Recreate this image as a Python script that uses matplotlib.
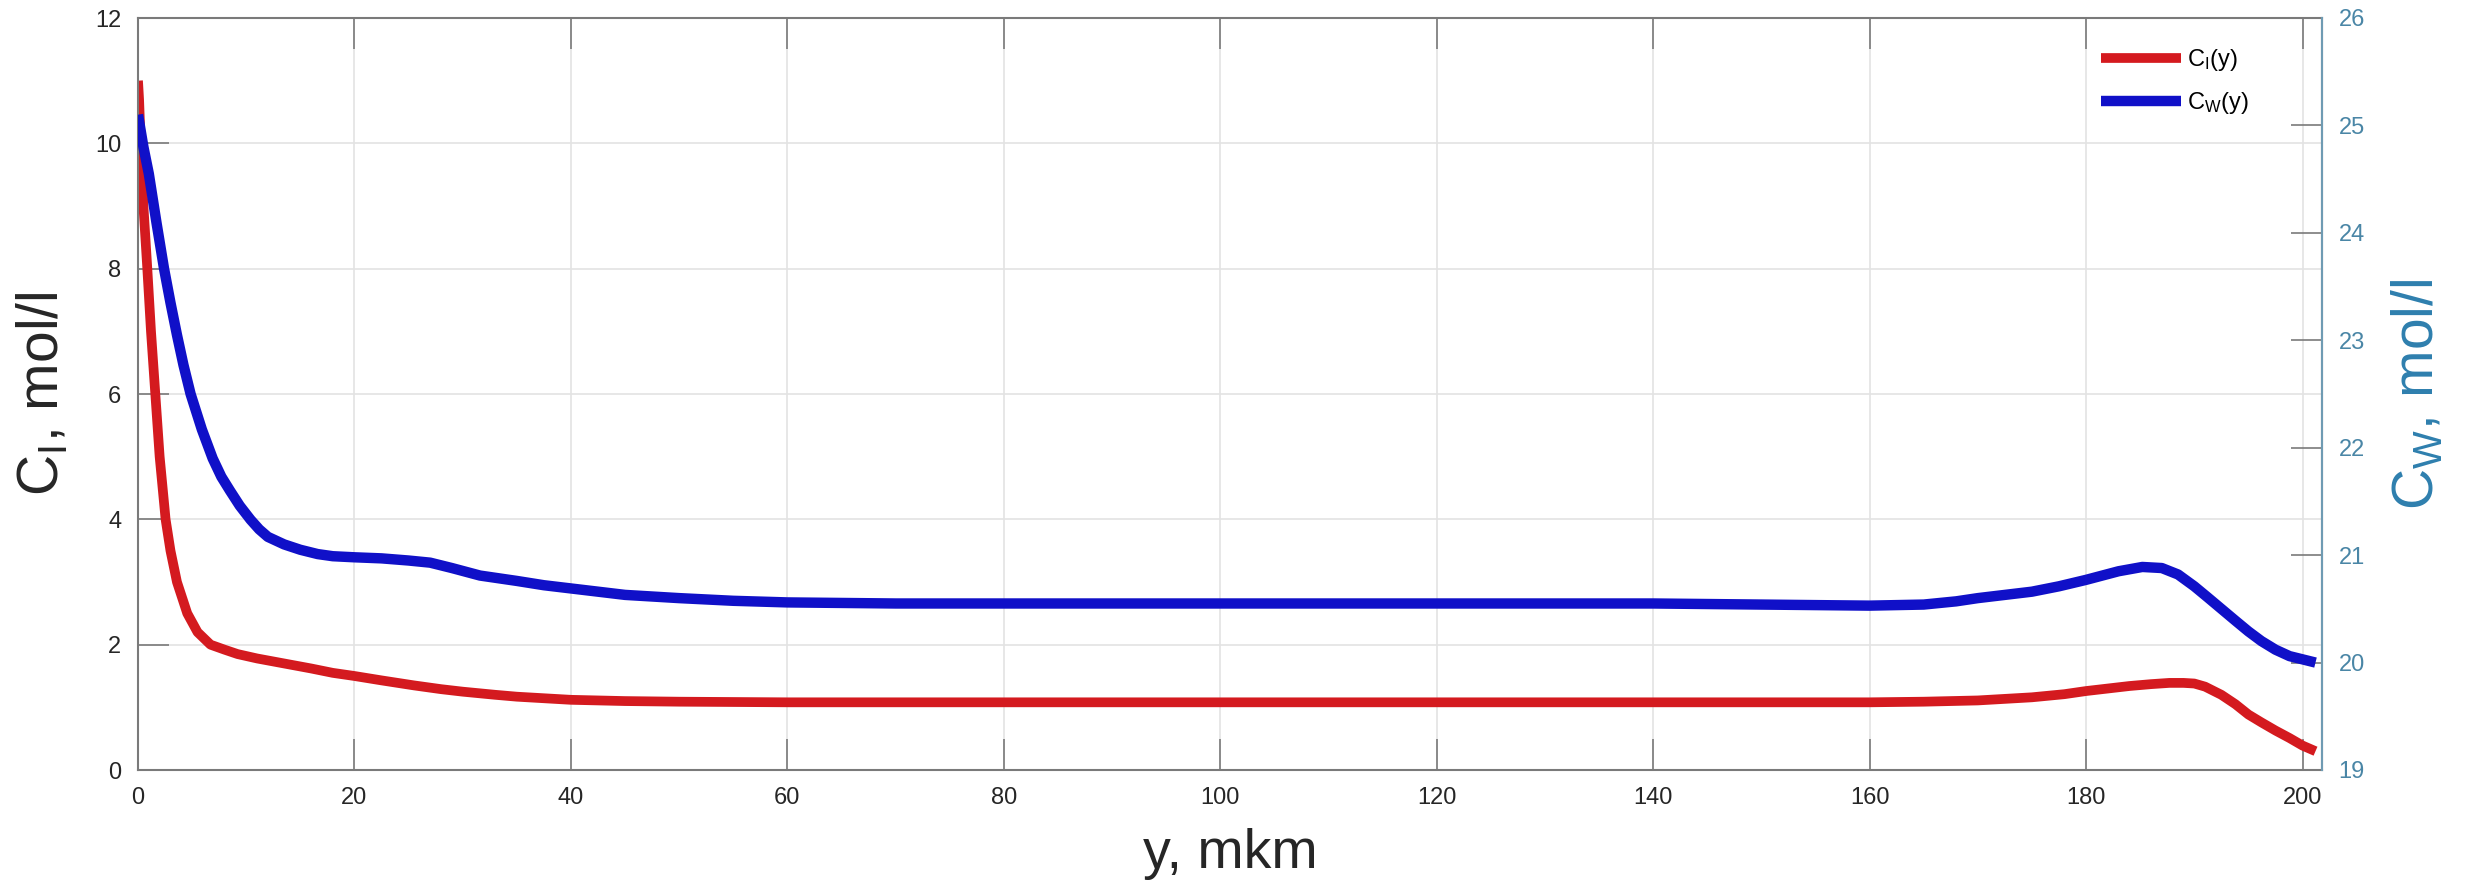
import matplotlib
matplotlib.use('Agg')
import matplotlib.pyplot as plt

plt.rcParams.update({'font.family': ['Liberation Sans', 'DejaVu Sans'],
                     'mathtext.fontset': 'custom',
                     'mathtext.rm': 'Liberation Sans',
                     'mathtext.it': 'Liberation Sans'})

# C_I(y), mol/l (left axis)
y_ci = [0, 0.1, 0.25, 0.5, 0.86, 1.2, 1.6, 2.0, 2.55, 3.0, 3.6, 4.55, 5.5, 6.7, 8, 9.2,
        11, 13.5, 16, 18, 20, 22.5, 25.5, 28, 30, 33, 35, 40, 45, 50, 55, 60, 80, 100,
        120, 140, 160, 165, 170, 175, 178, 180, 182, 184, 186, 187.7, 189, 190, 191,
        192.5, 193.8, 195, 196.2, 197.5, 198.8, 200, 201.2]
ci = [11.0, 10.7, 10.0, 9.0, 8.0, 7.0, 6.0, 5.0, 4.0, 3.5, 3.0, 2.5, 2.2, 2.0, 1.92, 1.85,
      1.78, 1.7, 1.62, 1.55, 1.5, 1.43, 1.35, 1.29, 1.25, 1.2, 1.17, 1.12, 1.1, 1.09, 1.085,
      1.08, 1.08, 1.08, 1.08, 1.08, 1.08, 1.09, 1.11, 1.16, 1.21, 1.26, 1.3, 1.34, 1.37,
      1.39, 1.39, 1.38, 1.33, 1.2, 1.05, 0.885, 0.76, 0.63, 0.51, 0.39, 0.30]

# C_W(y), mol/l (right axis)
y_cw = [0, 0.5, 1, 1.7, 2.4, 3.0, 3.6, 4.2, 4.86, 5.9, 6.9, 7.7, 8.5, 9.4, 10.4, 11.2, 12,
        13.5, 15, 16.6, 18, 20, 22.5, 25, 27, 29, 31.6, 35, 37.5, 40, 45, 50, 55, 60, 65,
        70, 100, 140, 150, 155, 160, 165, 168, 170, 172.5, 175, 177.5, 180, 183, 185.2,
        187, 188.5, 190, 191.2, 192.5, 193.8, 195, 196.2, 197.5, 198.8, 200, 201.2]
cw = [25.1, 24.8, 24.55, 24.1, 23.67, 23.35, 23.05, 22.77, 22.5, 22.17, 21.9, 21.73, 21.6,
      21.46, 21.33, 21.24, 21.17, 21.1, 21.05, 21.01, 20.99, 20.98, 20.97, 20.95, 20.93,
      20.88, 20.81, 20.76, 20.72, 20.69, 20.63, 20.6, 20.575, 20.56, 20.555, 20.55, 20.55,
      20.55, 20.54, 20.535, 20.53, 20.54, 20.57, 20.6, 20.63, 20.66, 20.71, 20.77, 20.85,
      20.89, 20.88, 20.82, 20.71, 20.61, 20.5, 20.39, 20.29, 20.2, 20.12, 20.06, 20.03, 20.0]

xticks = list(range(0, 201, 20))
left_ticks = list(range(0, 13, 2))
right_ticks = list(range(19, 27))

red = '#d41a1f'
blue = '#1010c8'
right_col = '#2e7fae'
dark = '#262626'
spine_col = '#7a7a7a'

fig = plt.figure(figsize=(24.68, 8.96), dpi=100)
ax = fig.add_axes([138 / 2468, 1 - 770 / 896, (2322 - 138) / 2468, (770 - 18) / 896])
ax2 = ax.twinx()

l1, = ax.plot(y_ci, ci, color=red, lw=7, solid_capstyle='butt', solid_joinstyle='round',
              label='C$_\\mathregular{I}$(y)')
l2, = ax2.plot(y_cw, cw, color=blue, lw=7.5, solid_capstyle='butt', solid_joinstyle='round',
               label='C$_\\mathregular{W}$(y)')

ax.set_xlim(0, 201.8)
ax.set_ylim(0, 12)
ax2.set_ylim(19, 26)
ax.set_xticks(xticks)
ax.set_yticks(left_ticks)
ax2.set_yticks(right_ticks)

ax.grid(True, color='#e3e3e3', lw=1.2)
ax.set_axisbelow(True)

ax.tick_params(axis='x', direction='in', length=22, width=1.2, color=spine_col,
               labelsize=17, labelcolor=dark, top=True, pad=12)
ax.tick_params(axis='y', direction='in', length=22, width=1.2, color=spine_col,
               labelsize=17, labelcolor=dark, right=False, pad=12)
ax2.tick_params(axis='y', direction='in', length=22, width=1.2, color=spine_col,
                labelsize=17, labelcolor='#4a86a6', pad=12)

for s in ax.spines.values():
    s.set_color(spine_col)
    s.set_linewidth(1.5)
for s in ax2.spines.values():
    s.set_visible(False)
ax2.spines['right'].set_visible(True)
ax2.spines['right'].set_color('#6f9bb3')
ax2.spines['right'].set_linewidth(1.5)

ax.set_xlabel('y, mkm', fontsize=40, color=dark, labelpad=14)
ax.set_ylabel('C$_\\mathregular{I}$, mol/l', fontsize=41, color=dark, labelpad=18)
ax2.set_ylabel('C$_\\mathregular{W}$, mol/l', fontsize=41, color=right_col, labelpad=18)

leg = ax2.legend(handles=[l1, l2], loc='upper left', bbox_to_anchor=(0.889, 0.99),
                 fontsize=17, frameon=True, edgecolor='white', facecolor='white',
                 fancybox=False, handlelength=3.4, handletextpad=0.25, labelspacing=0.75)
leg.get_frame().set_linewidth(0)

plt.savefig('out.png', dpi=100)
